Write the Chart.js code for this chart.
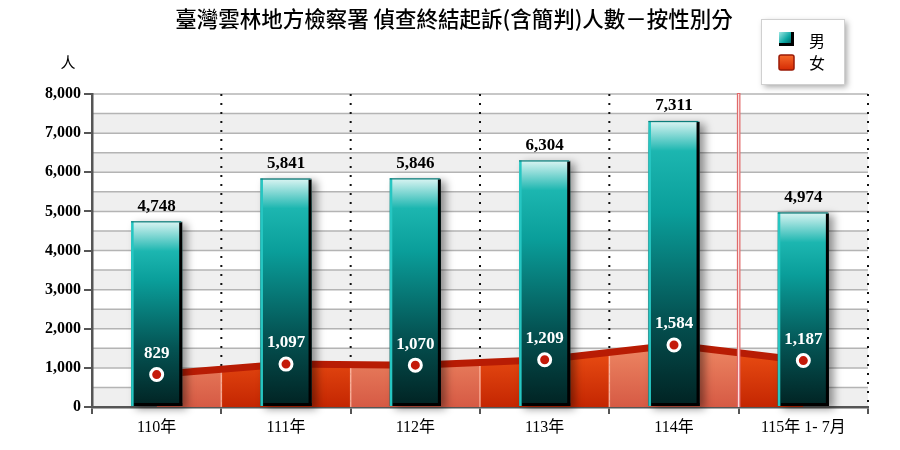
<!DOCTYPE html>
<html>
<head>
<meta charset="utf-8">
<script src="https://cdn.jsdelivr.net/npm/chart.js@4.4.1/dist/chart.umd.min.js"></script>
<style>
  html, body { margin: 0; padding: 0; background: #fff; }
  #wrap { width: 900px; height: 450px; }
</style>
</head>
<body>
<div id="wrap"><canvas id="genderChart"></canvas></div>
<script>
const categories = ['110年', '111年', '112年', '113年', '114年', '115年 1- 7月'];
const maleValues = [4748, 5841, 5846, 6304, 7311, 4974];
const femaleValues = [829, 1097, 1070, 1209, 1584, 1187];
const yMax = 8000;
const yStep = 1000;
const bandStep = 500;
const legendLabels = ['男', '女'];
const chartTitle = '臺灣雲林地方檢察署 偵查終結起訴(含簡判)人數－按性別分';
const yUnit = '人';
const splitAfter = 4; // red divider between 114年 and 115年

const serif = "'Liberation Serif', 'Times New Roman', 'Noto Sans CJK TC', serif";
const cjk = "'Noto Sans CJK TC', 'Noto Sans CJK SC', sans-serif";

// teal bar, light at the top, dark at the foot
function maleFill(context) {
  const chart = context.chart;
  if (!chart.chartArea || context.type !== 'data') return '#10a8a4';
  const y = chart.scales.y;
  const top = y.getPixelForValue(context.raw);
  const base = y.getPixelForValue(0);
  const h = base - top;
  const hi = Math.min(0.22, 30 / h);
  const g = chart.ctx.createLinearGradient(0, top, 0, base);
  g.addColorStop(0, '#dcf5f3');
  g.addColorStop(hi, '#1cb6b0');
  g.addColorStop(Math.max(hi + 0.08, 0.32), '#0a9e9a');
  g.addColorStop(0.68, '#045454');
  g.addColorStop(1, '#012222');
  return g;
}

// red area, one shade per category column (light / dark alternating)
function femaleFill(context) {
  const chart = context.chart;
  const area = chart.chartArea;
  if (!area) return '#d84018';
  const x = chart.scales.x;
  const y = chart.scales.y;
  const off = document.createElement('canvas');
  off.width = chart.width;
  off.height = chart.height;
  const g = off.getContext('2d');
  const colW = x.getPixelForValue(1) - x.getPixelForValue(0);
  const top = y.getPixelForValue(1700);
  categories.forEach((_, i) => {
    const left = x.getPixelForValue(i) - colW / 2;
    const grad = g.createLinearGradient(0, top, 0, area.bottom);
    if (i % 2 === 0) {
      grad.addColorStop(0, '#ef8a66');
      grad.addColorStop(1, '#d65a44');
    } else {
      grad.addColorStop(0, '#f05416');
      grad.addColorStop(1, '#c42602');
    }
    g.fillStyle = grad;
    g.fillRect(left, area.top, colW, area.bottom - area.top);
    if (i > 0) {
      g.fillStyle = 'rgba(255,190,170,0.8)';
      g.fillRect(left - 0.75, area.top, 1.5, area.bottom - area.top);
    }
  });
  return chart.ctx.createPattern(off, 'no-repeat');
}

const backdrop = {
  id: 'backdrop',
  beforeDraw(chart) {
    const { ctx, chartArea: a, scales: { x, y } } = chart;
    ctx.save();
    for (let v = 0; v < yMax; v += bandStep) {
      const y1 = y.getPixelForValue(v);
      const y2 = y.getPixelForValue(v + bandStep);
      ctx.fillStyle = (v / bandStep) % 2 === 0 ? '#efefef' : '#ffffff';
      ctx.fillRect(a.left, y2, a.right - a.left, y1 - y2);
    }
    ctx.strokeStyle = '#b4b4b4';
    ctx.lineWidth = 1.5;
    for (let v = bandStep; v <= yMax; v += bandStep) {
      const py = y.getPixelForValue(v);
      ctx.beginPath();
      ctx.moveTo(a.left, py);
      ctx.lineTo(a.right, py);
      ctx.stroke();
    }
    // dotted separators between categories
    const colW = x.getPixelForValue(1) - x.getPixelForValue(0);
    ctx.strokeStyle = '#111';
    ctx.lineWidth = 2;
    ctx.setLineDash([2, 7]);
    for (let i = 0; i < categories.length; i++) {
      if (i === splitAfter) continue;
      const px = x.getPixelForValue(i) + colW / 2;
      ctx.beginPath();
      ctx.moveTo(px, a.top);
      ctx.lineTo(px, a.bottom);
      ctx.stroke();
    }
    ctx.restore();
  }
};

const barDeco = {
  id: 'barDeco',
  beforeDatasetDraw(chart, args) {
    if (args.index !== 0) return;
    const ctx = chart.ctx;
    ctx.save();
    args.meta.data.forEach(bar => {
      const left = bar.x - bar.width / 2;
      ctx.shadowColor = 'rgba(0,0,0,0.4)';
      ctx.shadowBlur = 8;
      ctx.shadowOffsetX = 5;
      ctx.shadowOffsetY = 3;
      ctx.fillStyle = '#444';
      ctx.fillRect(left, bar.y, bar.width, bar.base - bar.y);
    });
    ctx.restore();
  },
  afterDatasetDraw(chart, args) {
    if (args.index !== 0) return;
    const ctx = chart.ctx;
    ctx.save();
    args.meta.data.forEach(bar => {
      const left = bar.x - bar.width / 2;
      const right = bar.x + bar.width / 2;
      const h = bar.base - bar.y;
      ctx.fillStyle = '#000';
      ctx.fillRect(right - 3, bar.y + 1, 3, h - 1);
      ctx.fillRect(left + 3, bar.base - 3, bar.width - 3, 3);
      ctx.fillStyle = '#26c6c2';
      ctx.fillRect(left, bar.y, 2.5, h);
      ctx.fillStyle = '#0b7d7a';
      ctx.fillRect(left, bar.y, bar.width - 1, 1.2);
    });
    ctx.restore();
  }
};

const labelsAndDivider = {
  id: 'labelsAndDivider',
  afterDatasetsDraw(chart) {
    const { ctx, chartArea: a, scales: { x } } = chart;
    ctx.save();
    // red divider
    const colW = x.getPixelForValue(1) - x.getPixelForValue(0);
    const px = x.getPixelForValue(splitAfter) + colW / 2;
    ctx.fillStyle = '#e06a6a';
    ctx.fillRect(px - 1.8, a.top - 1, 3.6, a.bottom - a.top + 1);
    ctx.fillStyle = '#fde6e6';
    ctx.fillRect(px - 0.6, a.top, 1.2, a.bottom - a.top);

    ctx.textAlign = 'center';
    ctx.textBaseline = 'middle';
    ctx.font = 'bold 17px ' + serif;
    ctx.fillStyle = '#000';
    chart.getDatasetMeta(0).data.forEach((bar, i) => {
      ctx.fillText(maleValues[i].toLocaleString('en-US'), bar.x, bar.y - 15);
    });
    ctx.fillStyle = '#fff';
    chart.getDatasetMeta(2).data.forEach((pt, i) => {
      ctx.fillText(femaleValues[i].toLocaleString('en-US'), pt.x, pt.y - 21);
    });
    ctx.restore();
  }
};

const frame = {
  id: 'frame',
  afterDraw(chart) {
    const ctx = chart.ctx;
    ctx.save();
    ctx.fillStyle = '#000';
    ctx.textAlign = 'center';
    ctx.textBaseline = 'middle';
    ctx.font = '500 21.5px ' + cjk;
    ctx.fillText(chartTitle, 454, 19);
    ctx.font = '15px ' + cjk;
    ctx.fillText(yUnit, 68, 62);

    // legend box
    ctx.shadowColor = 'rgba(0,0,0,0.35)';
    ctx.shadowBlur = 6;
    ctx.shadowOffsetX = 3;
    ctx.shadowOffsetY = 3;
    ctx.fillStyle = '#fff';
    ctx.fillRect(761, 19, 83, 65);
    ctx.shadowColor = 'transparent';
    ctx.strokeStyle = '#d0d0d0';
    ctx.lineWidth = 1;
    ctx.strokeRect(761.5, 19.5, 83, 65);

    let g = ctx.createLinearGradient(779, 32, 794, 46);
    g.addColorStop(0, '#9ee8e4');
    g.addColorStop(0.5, '#0aa6a2');
    g.addColorStop(1, '#023c3c');
    ctx.fillStyle = g;
    ctx.fillRect(779, 32, 15, 14);
    ctx.fillStyle = '#000';
    ctx.fillRect(791, 32, 3, 14);
    ctx.fillRect(779, 43, 15, 3);

    g = ctx.createLinearGradient(0, 55, 0, 70);
    g.addColorStop(0, '#f66a2a');
    g.addColorStop(1, '#d42a04');
    ctx.fillStyle = g;
    ctx.beginPath();
    ctx.roundRect(779, 55, 15, 15, 2);
    ctx.fill();
    ctx.strokeStyle = '#9a1a06';
    ctx.lineWidth = 1.5;
    ctx.stroke();

    ctx.fillStyle = '#000';
    ctx.font = '16px ' + cjk;
    ctx.fillText(legendLabels[0], 817, 41);
    ctx.fillText(legendLabels[1], 817, 63);
    ctx.restore();
  }
};

const ctx = document.getElementById('genderChart').getContext('2d');

const genderChart = new Chart(ctx, {
  data: {
    labels: categories,
    datasets: [
      {
        type: 'bar',
        label: legendLabels[0],
        data: maleValues,
        backgroundColor: maleFill,
        borderWidth: 0,
        barPercentage: 0.395,
        categoryPercentage: 1,
        order: 2
      },
      {
        type: 'line',
        label: legendLabels[1],
        data: femaleValues,
        fill: 'origin',
        backgroundColor: femaleFill,
        borderColor: '#b81c04',
        borderWidth: 7,
        tension: 0,
        pointRadius: 0,
        order: 3
      },
      {
        type: 'line',
        label: legendLabels[1] + ' point',
        data: femaleValues,
        showLine: false,
        pointRadius: 6,
        pointBackgroundColor: '#c41a0a',
        pointBorderColor: '#ffffff',
        pointBorderWidth: 3,
        order: 0
      }
    ]
  },
  options: {
    responsive: true,
    maintainAspectRatio: false,
    animation: false,
    layout: { padding: { top: 94, right: 32, left: 0, bottom: 0 } },
    plugins: {
      legend: { display: false },
      title: { display: false },
      tooltip: { enabled: false }
    },
    scales: {
      x: {
        offset: true,
        ticks: { color: '#000', font: { family: serif, size: 16 }, padding: 4 },
        grid: { display: true, offset: true, drawOnChartArea: false, drawTicks: true, tickLength: 7, color: '#555', lineWidth: 2 },
        border: { display: true, color: '#555', width: 2.5 },
        afterFit: s => { s.height = 43; }
      },
      y: {
        min: 0,
        max: yMax,
        ticks: {
          stepSize: yStep,
          color: '#000',
          font: { family: serif, size: 16, weight: 'bold' },
          padding: 3,
          callback: v => v.toLocaleString('en-US')
        },
        grid: { display: true, drawOnChartArea: false, drawTicks: true, tickLength: 8, color: '#555', lineWidth: 2 },
        border: { display: true, color: '#555', width: 2.5 },
        afterFit: s => { s.width = 92; }
      }
    }
  },
  plugins: [backdrop, barDeco, labelsAndDivider, frame]
});
</script>
</body>
</html>
